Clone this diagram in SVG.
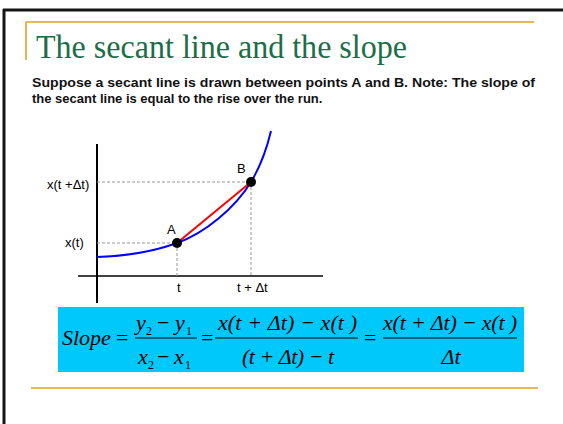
<svg xmlns="http://www.w3.org/2000/svg" width="563" height="424" viewBox="0 0 563 424">
<style>
.gold{stroke:#dca21e;stroke-width:1.6;fill:none}
.dash{stroke:#999;stroke-width:1;stroke-dasharray:3,2;fill:none}
.lbl{font-family:"Liberation Sans",Arial,sans-serif;font-size:13px;fill:#000}
.math{font-family:"Liberation Serif","Times New Roman",serif;font-style:italic;font-size:22px;fill:#000}
.op{font-family:"Liberation Serif","Times New Roman",serif;font-size:22px;fill:#000}
.sub{font-family:"Liberation Serif","Times New Roman",serif;font-size:12px;fill:#000}
</style>
<rect width="563" height="424" fill="#fff"/>
<g id="frame">
<path d="M3 10 H563 M4 9 V424" stroke="#151515" stroke-width="3" fill="none"/>
<path class="gold" d="M26 22 H534 M26 22 V60"/>
<path class="gold" d="M31 388 H538"/>
</g>
<g id="title">
<text x="36" y="58" font-family="'Liberation Serif','Times New Roman',serif" font-size="33" fill="#1c6e47" textLength="371" lengthAdjust="spacingAndGlyphs">The secant line and the slope</text>
</g>
<g id="subtitle" font-family="'Liberation Sans',Arial,sans-serif" font-size="13" font-weight="bold" fill="#111">
<text x="32" y="87" textLength="503" lengthAdjust="spacingAndGlyphs">Suppose a secant line is drawn between points A and B. Note: The slope of</text>
<text x="32" y="103">the secant line is equal to the rise over the run.</text>
</g>
<g id="graph">
<g id="axes">
<path d="M97 144 V303" stroke="#000" stroke-width="2"/>
<path d="M78 276 H323" stroke="#000" stroke-width="1.5"/>
</g>
<g id="guides">
<path class="dash" d="M97 243 H177 M97 182 H251 M177 243 V276 M251 182 V276"/>
</g>
<g id="curve">
<path d="M97 257 C130 256 155 251 177 243 C205 233 235 208 251 182 C260 167 266 152 271 131" stroke="#0000ff" stroke-width="2" fill="none"/>
</g>
<g id="secant">
<path d="M177 243 L251 182" stroke="#ff0000" stroke-width="2"/>
</g>
<g id="pointA">
<circle cx="177" cy="243" r="5" fill="#000"/>
<text class="lbl" x="167" y="234">A</text>
</g>
<g id="pointB">
<circle cx="251" cy="182" r="5" fill="#000"/>
<text class="lbl" x="237" y="173">B</text>
</g>
<g id="labels">
<text class="lbl" x="47" y="189">x(t +Δt)</text>
<text class="lbl" x="65" y="247">x(t)</text>
<text class="lbl" x="177" y="292">t</text>
<text class="lbl" x="237" y="292">t + Δt</text>
</g>
</g>
<g id="formula">
<rect x="58" y="307" width="466" height="65" fill="#00c8fb"/>
<text class="math" x="62" y="345">Slope</text>
<text class="op" x="116" y="345">=</text>
<path d="M135 338 H197 M215 338 H358 M383 338 H517" stroke="#000" stroke-width="1.2"/>
<text class="math" x="136" y="330">y</text><text class="sub" x="146" y="335">2</text>
<text class="op" x="157" y="330">−</text>
<text class="math" x="175" y="330">y</text><text class="sub" x="186" y="335">1</text>
<text class="math" x="138" y="364">x</text><text class="sub" x="148" y="369">2</text>
<text class="op" x="157" y="364">−</text>
<text class="math" x="174" y="364">x</text><text class="sub" x="185" y="369">1</text>
<text class="op" x="201" y="345">=</text>
<text class="math" x="218" y="330" textLength="139" lengthAdjust="spacing">x(t + Δt) − x(t )</text>
<text class="math" x="242" y="364" textLength="92" lengthAdjust="spacing">(t + Δt) − t</text>
<text class="op" x="364" y="345">=</text>
<text class="math" x="383" y="330" textLength="134" lengthAdjust="spacing">x(t + Δt) − x(t )</text>
<text class="math" x="451" y="364" text-anchor="middle">Δt</text>
</g>
</svg>
